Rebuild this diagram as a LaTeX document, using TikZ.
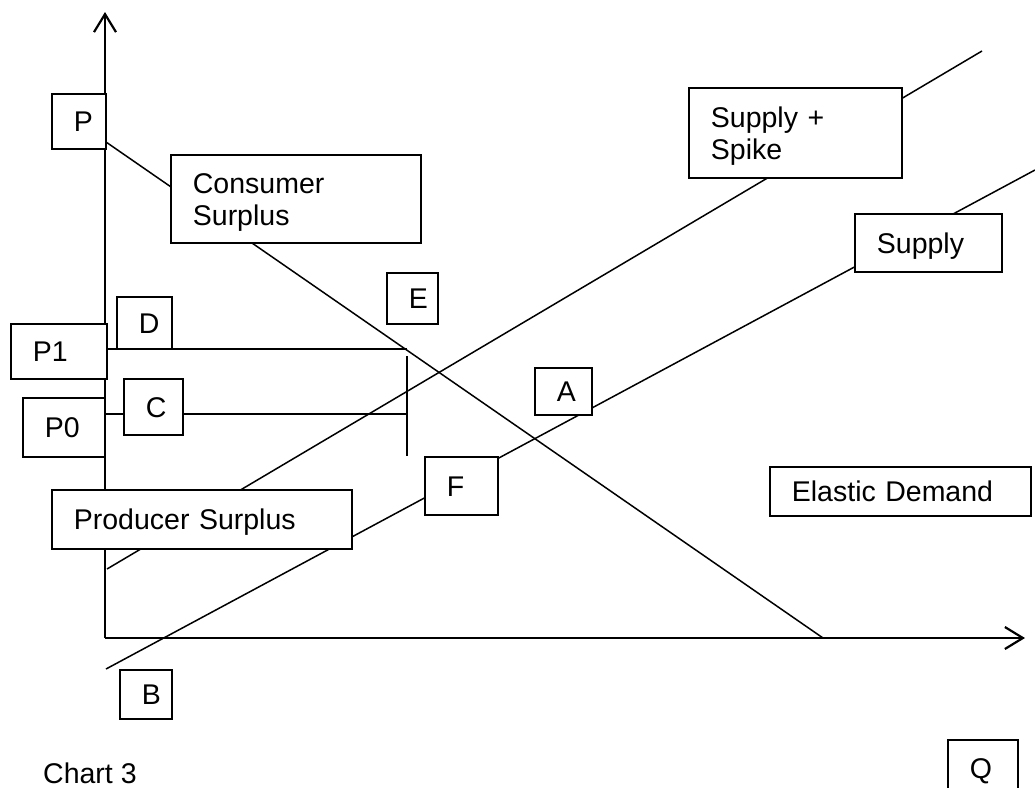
\documentclass[tikz,border=0pt]{standalone}
\usepackage{fontspec}
\setmainfont{Liberation Sans}
\usetikzlibrary{arrows.meta}
\begin{document}
\begin{tikzpicture}[x=1pt,y=-1pt,
  lbl/.style={draw, line width=1.8pt, fill=white, anchor=north west,
    inner xsep=22pt, inner ysep=0pt, align=left,
    text height=20.5pt, text depth=0pt,
    font=\fontsize{28.5}{32}\selectfont},
  twoline/.style={text depth=32pt},
  curve/.style={line width=1.5pt},
  axis/.style={line width=2.2pt, -{Straight Barb[length=18pt,width=22pt,line width=2.2pt]}}]
\clip (0,0) rectangle (1035,787);
\fill[white] (0,0) rectangle (1035,787);

% axes
\coordinate (O) at (105,638);
\coordinate (Ytop) at (105,12);
\coordinate (Xend) at (1025,638);
\draw[axis] (O) -- (Ytop);
\draw[axis] (O) -- (Xend);

% curves
\coordinate (dA) at (106,142);
\coordinate (dB) at (823,638);
\coordinate (kA) at (107,569);
\coordinate (kB) at (982,51);
\coordinate (sA) at (106,669);
\coordinate (sB) at (1035,170);
\coordinate (p1A) at (105,349);
\coordinate (p1B) at (407,349);
\coordinate (p0A) at (105,414);
\coordinate (p0B) at (407,414);
\coordinate (vA) at (407,356);
\coordinate (vB) at (407,456);
\draw[curve] (dA) -- (dB);
\draw[curve] (kA) -- (kB);
\draw[curve] (sA) -- (sB);
\draw[curve] (p1A) -- (p1B);
\draw[curve] (p0A) -- (p0B);
\draw[curve] (vA) -- (vB);

% labels
\node[lbl, minimum width=54pt, minimum height=55pt, text width=10pt] (P) at (51,93) {P};
\node[lbl, twoline, minimum width=250pt, minimum height=88pt, text width=206pt] (CS) at (170,154) {Consumer\\Surplus};
\node[lbl, minimum width=55pt, minimum height=52pt, text width=11pt] (D) at (116,296) {D};
\node[lbl, minimum width=96pt, minimum height=55pt, text width=52pt] (P1) at (10,323) {P1};
\node[lbl, minimum width=82pt, minimum height=59pt, text width=38pt] (P0) at (22,397) {P0};
\node[lbl, minimum width=59pt, minimum height=56pt, text width=15pt] (C) at (123,378) {C};
\node[lbl, minimum width=51pt, minimum height=51pt, text width=7pt] (E) at (386,272) {E};
\node[lbl, minimum width=57pt, minimum height=47pt, text width=13pt] (A) at (534,367) {A};
\node[lbl, minimum width=73pt, minimum height=58pt, text width=29pt] (F) at (424,456) {F};
\node[lbl, minimum width=300pt, minimum height=59pt, text width=256pt] (PS) at (51,489) {Producer Surplus};
\node[lbl, twoline, minimum width=213pt, minimum height=90pt, text width=169pt] (SS) at (688,87) {Supply +\\Spike};
\node[lbl, minimum width=147pt, minimum height=58pt, text width=103pt] (S) at (854,213) {Supply};
\node[lbl, minimum width=261pt, minimum height=49pt, text width=217pt] (ED) at (769,466) {Elastic Demand};
\node[lbl, minimum width=52pt, minimum height=49pt, text width=8pt] (B) at (119,669) {B};
\node[lbl, minimum width=70pt, minimum height=57pt, text width=26pt] (Q) at (947,739) {Q};
\node[anchor=base west, inner sep=0pt, font=\fontsize{28.5}{32}\selectfont] (chart) at (43,783) {Chart 3};
\end{tikzpicture}
\end{document}
